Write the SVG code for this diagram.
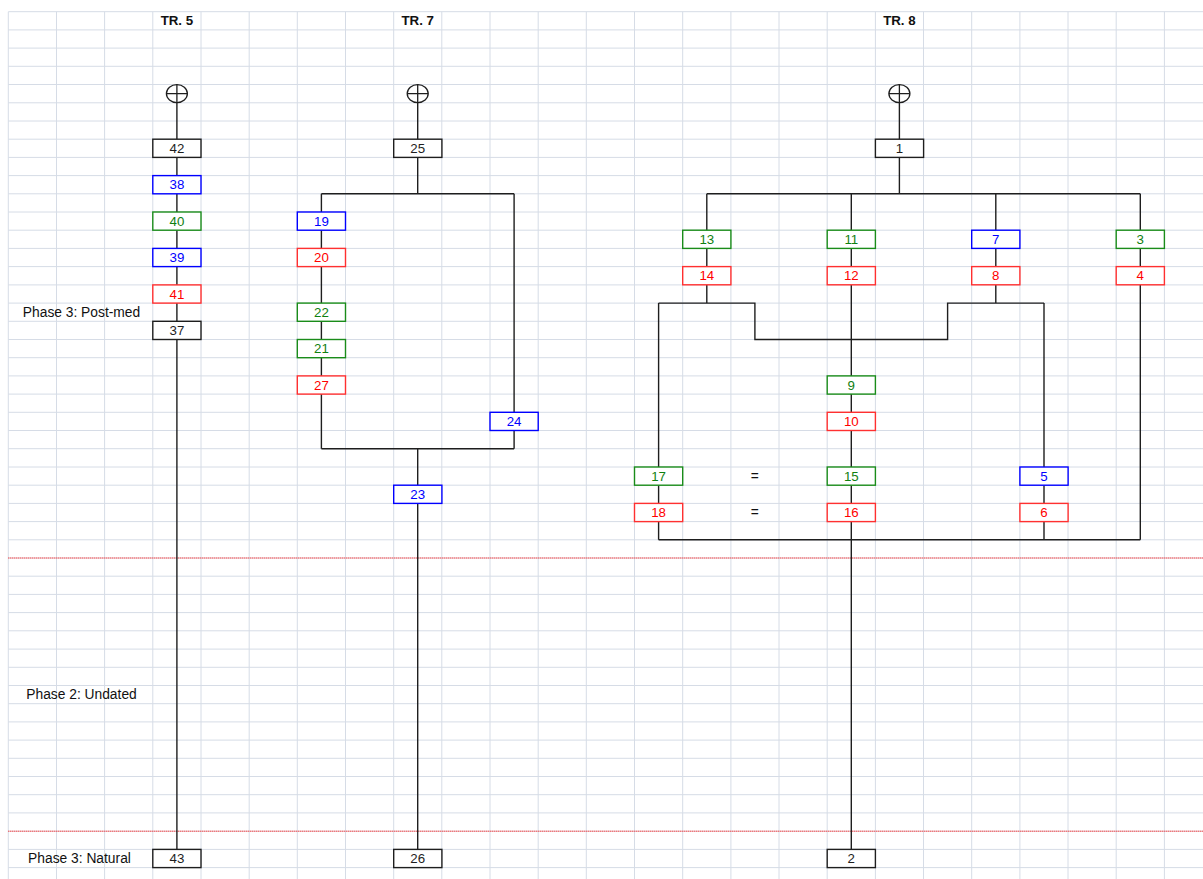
<svg xmlns="http://www.w3.org/2000/svg" width="1203" height="879" viewBox="0 0 1203 879">
<style>
.grid{stroke:#d6dce6;stroke-width:1;fill:none}
.phase{stroke:#ff0000;stroke-width:1;stroke-dasharray:1 1;fill:none}
.c{stroke:#1e1e1e;stroke-width:1.4;fill:none}
rect{fill:#fff;stroke-width:1.4}
.k rect{stroke:#1e1e1e}.k text{fill:#1e1e1e}
.b rect{stroke:#0000ff}.b text{fill:#0000ff}
.g rect{stroke:#1a8c1a}.g text{fill:#108010}
.r rect{stroke:#ff3030}.r text{fill:#ff0000}
text{font-family:"Liberation Sans",Arial,sans-serif;font-size:13.3px;text-anchor:middle}
.h{font-weight:bold;fill:#111}
.lab{fill:#111;font-size:13.8px}
.o{fill:none;stroke:#1e1e1e;stroke-width:1.3}
</style>
<rect x="0" y="0" width="1203" height="879" style="fill:#fff;stroke:none"/>
<path class="grid" d="M8.3 11.7V879M56.5 11.7V879M104.6 11.7V879M152.8 11.7V879M201 11.7V879M249.2 11.7V879M297.3 11.7V879M345.5 11.7V879M393.7 11.7V879M441.8 11.7V879M490 11.7V879M538.2 11.7V879M586.3 11.7V879M634.5 11.7V879M682.7 11.7V879M730.9 11.7V879M779 11.7V879M827.2 11.7V879M875.4 11.7V879M923.5 11.7V879M971.7 11.7V879M1019.9 11.7V879M1068 11.7V879M1116.2 11.7V879M1164.4 11.7V879
M8.3 11.7H1203M8.3 29.9H1203M8.3 48.1H1203M8.3 66.3H1203M8.3 84.5H1203M8.3 102.8H1203M8.3 121H1203M8.3 139.2H1203M8.3 157.4H1203M8.3 175.6H1203M8.3 193.8H1203M8.3 212H1203M8.3 230.2H1203M8.3 248.4H1203M8.3 266.6H1203M8.3 284.9H1203M8.3 303.1H1203M8.3 321.3H1203M8.3 339.5H1203M8.3 357.7H1203M8.3 375.9H1203M8.3 394.1H1203M8.3 412.3H1203M8.3 430.5H1203M8.3 448.7H1203M8.3 467H1203M8.3 485.2H1203M8.3 503.4H1203M8.3 521.6H1203M8.3 539.8H1203M8.3 558H1203M8.3 576.2H1203M8.3 594.4H1203M8.3 612.6H1203M8.3 630.8H1203M8.3 649.1H1203M8.3 667.3H1203M8.3 685.5H1203M8.3 703.7H1203M8.3 721.9H1203M8.3 740.1H1203M8.3 758.3H1203M8.3 776.5H1203M8.3 794.7H1203M8.3 812.9H1203M8.3 831.2H1203M8.3 849.4H1203M8.3 867.6H1203"/>
<path class="phase" d="M8.3 558H1203M8.3 831.2H1203"/>
<g id="labels">
<text class="h" x="176.9" y="25">TR. 5</text>
<text class="h" x="417.7" y="25">TR. 7</text>
<text class="h" x="899.4" y="25">TR. 8</text>
<text class="lab" x="81.5" y="316.8">Phase 3: Post-med</text>
<text class="lab" x="81.5" y="699.2">Phase 2: Undated</text>
<text class="lab" x="79.5" y="863.2">Phase 3: Natural</text>
<text class="lab" x="754.9" y="480.5">=</text>
<text class="lab" x="754.9" y="516.7">=</text>
</g>
<g id="connectors">
<path class="c" d="M176.9 102.6V139.2M176.9 157.4V175.6M176.9 193.8V212M176.9 230.2V248.4M176.9 266.6V284.9M176.9 303.1V321.3M176.9 339.5V849.4"/>
<path class="c" d="M417.7 102.6V139.2M417.7 157.4V193.8M321.4 193.8H514.1M321.4 193.8V212M321.4 230.2V248.4M321.4 266.6V303.1M321.4 321.3V339.5M321.4 357.7V375.9M321.4 394.1V448.7M514.1 193.8V412.3M514.1 430.5V448.7M321.4 448.7H514.1M417.7 448.7V485.2M417.7 503.4V849.4"/>
<path class="c" d="M899.4 102.6V139.2M899.4 157.4V193.8M706.8 193.8H1140.3M706.8 193.8V230.2M706.8 248.4V266.6M706.8 284.9V303.1M851.3 193.8V230.2M851.3 248.4V266.6M995.8 193.8V230.2M995.8 248.4V266.6M995.8 284.9V303.1M1140.3 193.8V230.2M1140.3 248.4V266.6M1140.3 284.9V539.8M658.6 303.1H754.9V339.5H947.6V303.1H1044M658.6 303.1V467M658.6 485.2V503.4M658.6 521.6V539.8M851.3 284.9V375.9M851.3 394.1V412.3M851.3 430.5V467M851.3 485.2V503.4M851.3 521.6V849.4M1044 303.1V467M1044 485.2V503.4M1044 521.6V539.8M658.6 539.8H1140.3"/>
</g>
<g id="origin-tr5"><ellipse class="o" cx="176.9" cy="93.6" rx="10.5" ry="9"/><path class="o" d="M166.4 93.6H187.4M176.9 84.6V102.6"/></g>
<g id="origin-tr7"><ellipse class="o" cx="417.7" cy="93.6" rx="10.5" ry="9"/><path class="o" d="M407.2 93.6H428.2M417.7 84.6V102.6"/></g>
<g id="origin-tr8"><ellipse class="o" cx="899.4" cy="93.6" rx="10.5" ry="9"/><path class="o" d="M888.9 93.6H909.9M899.4 84.6V102.6"/></g>
<g id="n42" class="k"><rect x="152.8" y="139.2" width="48.2" height="18.2"/><text x="176.9" y="152.8">42</text></g>
<g id="n38" class="b"><rect x="152.8" y="175.6" width="48.2" height="18.2"/><text x="176.9" y="189.2">38</text></g>
<g id="n40" class="g"><rect x="152.8" y="212" width="48.2" height="18.2"/><text x="176.9" y="225.6">40</text></g>
<g id="n39" class="b"><rect x="152.8" y="248.4" width="48.2" height="18.2"/><text x="176.9" y="262">39</text></g>
<g id="n41" class="r"><rect x="152.8" y="284.9" width="48.2" height="18.2"/><text x="176.9" y="298.5">41</text></g>
<g id="n37" class="k"><rect x="152.8" y="321.3" width="48.2" height="18.2"/><text x="176.9" y="334.9">37</text></g>
<g id="n43" class="k"><rect x="152.8" y="849.4" width="48.2" height="18.2"/><text x="176.9" y="863">43</text></g>
<g id="n25" class="k"><rect x="393.7" y="139.2" width="48.2" height="18.2"/><text x="417.7" y="152.8">25</text></g>
<g id="n19" class="b"><rect x="297.3" y="212" width="48.2" height="18.2"/><text x="321.4" y="225.6">19</text></g>
<g id="n20" class="r"><rect x="297.3" y="248.4" width="48.2" height="18.2"/><text x="321.4" y="262">20</text></g>
<g id="n22" class="g"><rect x="297.3" y="303.1" width="48.2" height="18.2"/><text x="321.4" y="316.7">22</text></g>
<g id="n21" class="g"><rect x="297.3" y="339.5" width="48.2" height="18.2"/><text x="321.4" y="353.1">21</text></g>
<g id="n27" class="r"><rect x="297.3" y="375.9" width="48.2" height="18.2"/><text x="321.4" y="389.5">27</text></g>
<g id="n24" class="b"><rect x="490" y="412.3" width="48.2" height="18.2"/><text x="514.1" y="425.9">24</text></g>
<g id="n23" class="b"><rect x="393.7" y="485.2" width="48.2" height="18.2"/><text x="417.7" y="498.8">23</text></g>
<g id="n26" class="k"><rect x="393.7" y="849.4" width="48.2" height="18.2"/><text x="417.7" y="863">26</text></g>
<g id="n1" class="k"><rect x="875.4" y="139.2" width="48.2" height="18.2"/><text x="899.4" y="152.8">1</text></g>
<g id="n13" class="g"><rect x="682.7" y="230.2" width="48.2" height="18.2"/><text x="706.8" y="243.8">13</text></g>
<g id="n14" class="r"><rect x="682.7" y="266.6" width="48.2" height="18.2"/><text x="706.8" y="280.2">14</text></g>
<g id="n11" class="g"><rect x="827.2" y="230.2" width="48.2" height="18.2"/><text x="851.3" y="243.8">11</text></g>
<g id="n12" class="r"><rect x="827.2" y="266.6" width="48.2" height="18.2"/><text x="851.3" y="280.2">12</text></g>
<g id="n7" class="b"><rect x="971.7" y="230.2" width="48.2" height="18.2"/><text x="995.8" y="243.8">7</text></g>
<g id="n8" class="r"><rect x="971.7" y="266.6" width="48.2" height="18.2"/><text x="995.8" y="280.2">8</text></g>
<g id="n3" class="g"><rect x="1116.2" y="230.2" width="48.2" height="18.2"/><text x="1140.3" y="243.8">3</text></g>
<g id="n4" class="r"><rect x="1116.2" y="266.6" width="48.2" height="18.2"/><text x="1140.3" y="280.2">4</text></g>
<g id="n9" class="g"><rect x="827.2" y="375.9" width="48.2" height="18.2"/><text x="851.3" y="389.5">9</text></g>
<g id="n10" class="r"><rect x="827.2" y="412.3" width="48.2" height="18.2"/><text x="851.3" y="425.9">10</text></g>
<g id="n17" class="g"><rect x="634.5" y="467" width="48.2" height="18.2"/><text x="658.6" y="480.6">17</text></g>
<g id="n18" class="r"><rect x="634.5" y="503.4" width="48.2" height="18.2"/><text x="658.6" y="517">18</text></g>
<g id="n15" class="g"><rect x="827.2" y="467" width="48.2" height="18.2"/><text x="851.3" y="480.6">15</text></g>
<g id="n16" class="r"><rect x="827.2" y="503.4" width="48.2" height="18.2"/><text x="851.3" y="517">16</text></g>
<g id="n5" class="b"><rect x="1019.9" y="467" width="48.2" height="18.2"/><text x="1044" y="480.6">5</text></g>
<g id="n6" class="r"><rect x="1019.9" y="503.4" width="48.2" height="18.2"/><text x="1044" y="517">6</text></g>
<g id="n2" class="k"><rect x="827.2" y="849.4" width="48.2" height="18.2"/><text x="851.3" y="863">2</text></g>
</svg>
